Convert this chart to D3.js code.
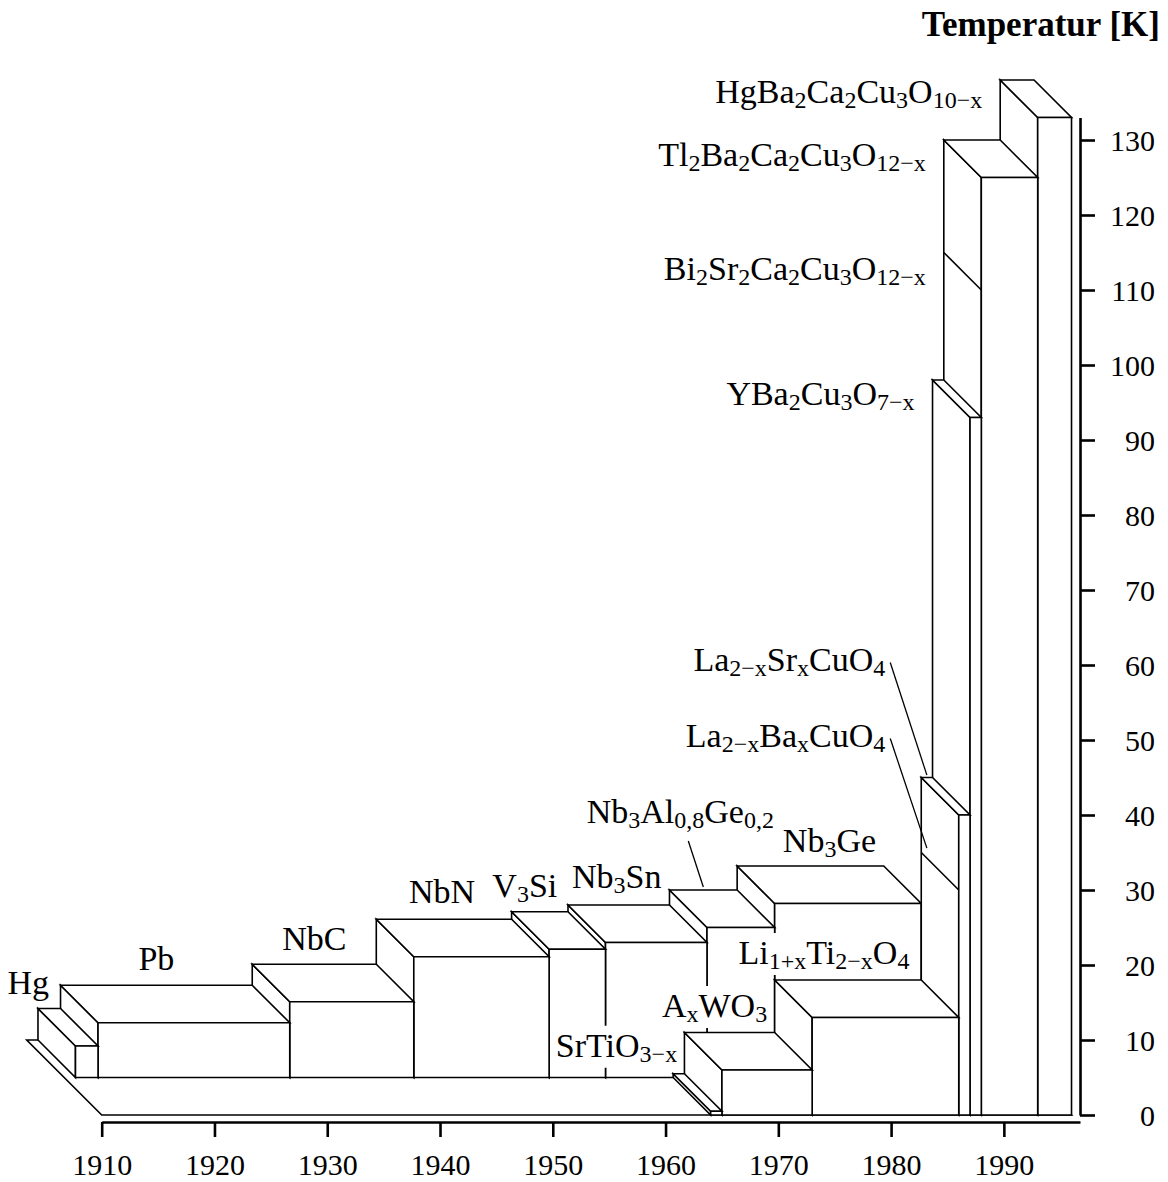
<!DOCTYPE html>
<html>
<head>
<meta charset="utf-8">
<script src="https://cdn.jsdelivr.net/npm/d3@7"></script>
<style>
  html, body { margin: 0; padding: 0; background: #fff; }
  svg { display: block; }
  text { font-family: "Liberation Serif", "Times New Roman", serif; fill: #000; }
</style>
</head>
<body>
<svg id="chart" width="1168" height="1182"></svg>
<script>
// ---- Back row: classical superconductors (record Tc steps) ----
const backNames = ["Hg", "Pb", "NbC", "NbN", "V_3Si", "Nb_3Sn", "Nb_3Al_{0,8}Ge_{0,2}", "Nb_3Ge"];
const backFrom  = [1911, 1913, 1930, 1941, 1953, 1958, 1967, 1973];
const backTo    = [1913, 1930, 1941, 1953, 1958, 1967, 1973, 1986];
const backTc    = [4.2, 7.3, 10.1, 16.1, 17.1, 18.0, 20.0, 23.2];

// ---- Front row: oxide superconductors ----
const frontNames = ["SrTiO_{3−x}", "A_xWO_3", "Li_{1+x}Ti_{2−x}O_4", "La_{2−x}Sr_xCuO_4",
                    "YBa_2Cu_3O_{7−x}", "Tl_2Ba_2Ca_2Cu_3O_{12−x}", "HgBa_2Ca_2Cu_3O_{10−x}"];
const frontFrom  = [1964, 1965, 1973, 1986, 1987, 1988, 1993];
const frontTo    = [1965, 1973, 1986, 1987, 1988, 1993, 1996];
const frontTc    = [0.5, 6.0, 13.0, 40, 93, 125, 133];

// Earlier records marked as a level line on the side of the block that beat them
const stepNames = ["La_{2−x}Ba_xCuO_4", "Bi_2Sr_2Ca_2Cu_3O_{12−x}"];
const stepYear  = [1986, 1988];
const stepTc    = [30, 110];

// Axis ticks
const yearTicks = [1910, 1920, 1930, 1940, 1950, 1960, 1970, 1980, 1990];
const tempTicks = [0, 10, 20, 30, 40, 50, 60, 70, 80, 90, 100, 110, 120, 130];

// ---- Layout ----
const SERIF = '"Liberation Serif", "Times New Roman", serif';
const svg = d3.select("#chart");
const x = d3.scaleLinear().domain([1910, 1996]).range([101.7, 101.7 + 86 * 11.277]);
const y = d3.scaleLinear().domain([0, 133]).range([1115, 1115 - 133 * 7.5]);
const DEPTH = 37.5;               // screen offset per depth row (oblique projection, up-left)
const proj = (yr, z, t) => [x(yr) - DEPTH * z, y(t) - DEPTH * z];

const FACE = { fill: "#fff", stroke: "#000", "stroke-width": 1.6, "stroke-linejoin": "miter" };
const gBlocks = svg.append("g");

function poly(g, pts) {
  const p = g.append("polygon").attr("points", pts.map(d => d.join(",")).join(" "));
  Object.entries(FACE).forEach(([k, v]) => p.attr(k, v));
  return p;
}

// floor slab (Tc = 0) under both rows
poly(gBlocks, [proj(1910, 0, 0), proj(1996, 0, 0), proj(1996, 2, 0), proj(1910, 2, 0)]);

// a record block occupying [from,to] in time, depth row [z0, z0+1], height Tc
function block(from, to, tc, z0) {
  const g = gBlocks.append("g");
  poly(g, [proj(from, z0, 0), proj(from, z0, tc), proj(from, z0 + 1, tc), proj(from, z0 + 1, 0)]); // left side
  poly(g, [proj(from, z0, tc), proj(to, z0, tc), proj(to, z0 + 1, tc), proj(from, z0 + 1, tc)]);   // top
  poly(g, [proj(from, z0, 0), proj(to, z0, 0), proj(to, z0, tc), proj(from, z0, tc)]);             // front
  return g;
}

// back row, drawn right to left so lower steps cover the sides of taller ones
for (let i = backNames.length - 1; i >= 0; i--) block(backFrom[i], backTo[i], backTc[i], 1);

// front row
for (let i = frontNames.length - 1; i >= 0; i--) {
  const g = block(frontFrom[i], frontTo[i], frontTc[i], 0);
  stepYear.forEach((yr, k) => {
    if (yr === frontFrom[i]) {
      const a = proj(yr, 0, stepTc[k]), b = proj(yr, 1, stepTc[k]);
      g.append("line").attr("x1", a[0]).attr("y1", a[1]).attr("x2", b[0]).attr("y2", b[1])
        .attr("stroke", "#000").attr("stroke-width", 1.6);
    }
  });
}

// ---- Labels with sub-scripts ----
const MAIN_SIZE = 34, SUB_SIZE = 24, SUB_SHIFT = 5;
function richText(g, str) {
  const parts = [];
  let buf = "", i = 0;
  while (i < str.length) {
    if (str[i] === "_") {
      if (buf) { parts.push({ t: buf, sub: false }); buf = ""; }
      if (str[i + 1] === "{") {
        const j = str.indexOf("}", i);
        parts.push({ t: str.slice(i + 2, j), sub: true });
        i = j + 1;
      } else {
        parts.push({ t: str[i + 1], sub: true });
        i += 2;
      }
    } else { buf += str[i]; i++; }
  }
  if (buf) parts.push({ t: buf, sub: false });
  let down = false;
  parts.forEach(p => {
    const ts = g.append("tspan").text(p.t);
    if (p.sub) {
      ts.attr("font-size", SUB_SIZE);
      if (!down) { ts.attr("dy", SUB_SHIFT); down = true; }
    } else if (down) { ts.attr("dy", -SUB_SHIFT); down = false; }
  });
}

const gLabels = svg.append("g");
function label(str, px, py, anchor) {
  const g = gLabels.append("g");
  const t = g.append("text").attr("x", px).attr("y", py).attr("text-anchor", anchor)
    .attr("font-size", MAIN_SIZE);
  richText(t, str);
  const bb = t.node().getBBox();
  g.insert("rect", "text").attr("x", bb.x - 3).attr("y", bb.y - 1)
    .attr("width", bb.width + 6).attr("height", bb.height + 2).attr("fill", "#fff");
  return bb;
}
function leader(x1, y1, pt, dyPx) {
  gLabels.append("line").attr("x1", x1).attr("y1", y1).attr("x2", pt[0]).attr("y2", pt[1] + dyPx)
    .attr("stroke", "#000").attr("stroke-width", 1.3);
}

// placement offsets (pixels) relative to the back edge of each block's top
const backLabelPlace = [
  { dx: -21, dy: -15 }, { dx: 0, dy: -15 }, { dx: 0, dy: -14 }, { dx: -2, dy: -16 },
  { dx: -15, dy: -15 }, { dx: -2, dy: -17 }, { dx: -23, dy: -67 }, { dx: 19, dy: -14 }
];
backNames.forEach((n, i) => {
  const a = proj(backFrom[i], 2, backTc[i]), b = proj(backTo[i], 2, backTc[i]);
  const cx = (a[0] + b[0]) / 2 + backLabelPlace[i].dx, by = a[1] + backLabelPlace[i].dy;
  label(n, cx, by, "middle");
  if (i === 6) leader(cx + 8, by + 18, proj((backFrom[i] + backTo[i]) / 2, 2, backTc[i]), -3);
});

const frontLabelPlace = [
  { anchor: "end", dx: 4, dy: -17 }, { anchor: "middle", dx: -15, dy: -15.5 },
  { anchor: "middle", dx: -24, dy: -16 }, { anchor: "end", dx: -36, dy: -107 },
  { anchor: "end", dx: -18, dy: 25 }, { anchor: "end", dx: -18, dy: 26 },
  { anchor: "end", dx: -18, dy: 23 }
];
frontNames.forEach((n, i) => {
  const pl = frontLabelPlace[i];
  const a = proj(frontFrom[i], 1, frontTc[i]), b = proj(frontTo[i], 1, frontTc[i]);
  const ax = pl.anchor === "middle" ? (a[0] + b[0]) / 2 : a[0];
  const px = ax + pl.dx, py = a[1] + pl.dy;
  label(n, px, py, pl.anchor);
  if (i === 3) leader(px + 5, py - 8, proj(frontFrom[i], 0.85, frontTc[i]), -8);
});

const stepLabelPlace = [{ dx: -36, dy: -106 }, { dx: -18, dy: 27 }];
stepNames.forEach((n, k) => {
  const a = proj(stepYear[k], 1, stepTc[k]);
  const px = a[0] + stepLabelPlace[k].dx, py = a[1] + stepLabelPlace[k].dy;
  label(n, px, py, "end");
  if (k === 0) leader(px + 5, py - 8, proj(stepYear[k], 0.85, stepTc[k]), -10);
});

// ---- Axes ----
const axisX = x(1996) + 8.5;      // temperature axis stands just right of the last block
const axisY = y(0) + 7;           // year axis just below the floor edge
const xa = d3.scaleLinear().domain([1910, x.invert(axisX)]).range([x(1910), axisX]);

const gx = svg.append("g").attr("transform", `translate(0,${axisY})`)
  .call(d3.axisBottom(xa).tickValues(yearTicks).tickSize(15).tickSizeOuter(0).tickFormat(d3.format("d")));
gx.attr("font-family", null);
gx.select(".domain").attr("stroke-width", 2.6);
gx.selectAll(".tick line").attr("stroke-width", 2.6);
gx.selectAll(".tick text").attr("y", 53).attr("dy", 0)
  .style("font-family", SERIF).style("font-size", "30px");

const gy = svg.append("g").attr("transform", `translate(${axisX},0)`)
  .call(d3.axisRight(y).tickValues(tempTicks).tickSize(15).tickSizeOuter(0));
gy.attr("font-family", null);
gy.select(".domain").attr("stroke-width", 2.6);
gy.selectAll(".tick line").attr("stroke-width", 2.6);
gy.selectAll(".tick text").attr("x", 75).attr("dy", "0.34em").attr("text-anchor", "end")
  .style("font-family", SERIF).style("font-size", "30px");

svg.append("text").attr("x", 1160).attr("y", 36).attr("text-anchor", "end")
  .style("font-family", SERIF).attr("font-size", 35).attr("font-weight", "bold").text("Temperatur [K]");
</script>
</body>
</html>
